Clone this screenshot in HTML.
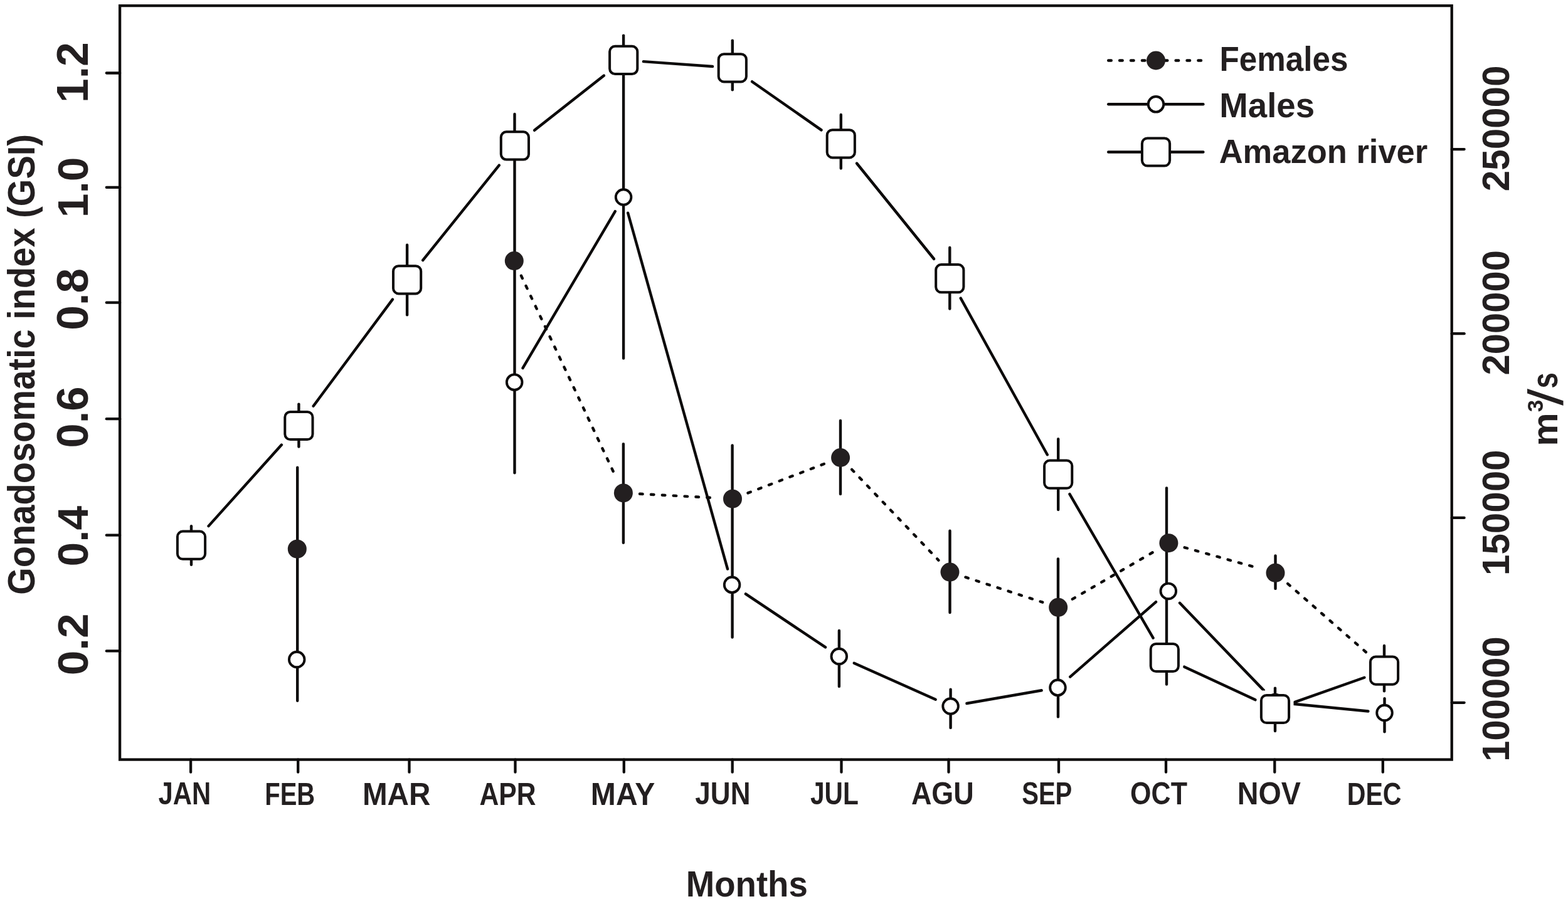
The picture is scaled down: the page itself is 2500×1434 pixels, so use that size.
<!DOCTYPE html>
<html lang="en"><head><meta charset="utf-8"><title>Gonadosomatic index and Amazon river discharge by month</title>
<style>html,body{margin:0;padding:0;background:#fff;}body{width:2500px;height:1434px;overflow:hidden;}svg{display:block;}</style>
</head><body>
<svg width="2500" height="1434" viewBox="0 0 2500 1434">
<rect x="0" y="0" width="2500" height="1434" fill="#fff"/>
<g font-family="'Liberation Sans', sans-serif" font-weight="bold" font-size="200" fill="#231f20">
<text transform="matrix(0.20911 0 0 0.25000 252.57 1283.10)">JAN</text>
<text transform="matrix(0.20000 0 0 0.25072 422.20 1283.60)">FEB</text>
<text transform="matrix(0.23836 0 0 0.25072 577.90 1283.60)">MAR</text>
<text transform="matrix(0.21359 0 0 0.25072 764.53 1283.60)">APR</text>
<text transform="matrix(0.24049 0 0 0.25072 941.87 1283.60)">MAY</text>
<text transform="matrix(0.22031 0 0 0.25000 1108.34 1283.10)">JUN</text>
<text transform="matrix(0.20325 0 0 0.25000 1291.99 1283.10)">JUL</text>
<text transform="matrix(0.22482 0 0 0.25352 1452.88 1283.49)">AGU</text>
<text transform="matrix(0.20026 0 0 0.25352 1629.20 1283.49)">SEP</text>
<text transform="matrix(0.21529 0 0 0.25352 1802.08 1283.49)">OCT</text>
<text transform="matrix(0.23365 0 0 0.24648 1972.66 1283.11)">NOV</text>
<text transform="matrix(0.20571 0 0 0.24930 2147.73 1283.50)">DEC</text>
<text transform="matrix(0.27319 0 0 0.28503 1093.65 1429.93)">Months</text>
<text transform="matrix(0.25597 0 0 0.27687 1944.57 112.95)">Females</text>
<text transform="matrix(0.27308 0 0 0.27755 1944.35 186.94)">Males</text>
<text transform="matrix(0.26243 0 0 0.26667 1943.69 260.17)">Amazon river</text>
<text transform="matrix(0 -0.34786 0.35071 0 140.30 164.02)">1.2</text>
<text transform="matrix(0 -0.34747 0.34577 0 139.61 347.22)">1.0</text>
<text transform="matrix(0 -0.35568 0.34930 0 140.10 526.85)">0.8</text>
<text transform="matrix(0 -0.35285 0.34930 0 140.10 714.52)">0.6</text>
<text transform="matrix(0 -0.34721 0.34296 0 139.61 903.48)">0.4</text>
<text transform="matrix(0 -0.35649 0.34296 0 139.61 1077.35)">0.2</text>
<text transform="matrix(0 -0.30092 0.30211 0 2406.40 305.31)">250000</text>
<text transform="matrix(0 -0.29893 0.30211 0 2406.40 598.49)">200000</text>
<text transform="matrix(0 -0.30046 0.30211 0 2406.40 918.01)">150000</text>
<text transform="matrix(0 -0.29923 0.30211 0 2406.40 1214.79)">100000</text>
<text transform="matrix(0 -0.30066 0.28426 0 2483.10 711.71)">m</text>
<text transform="matrix(0 -0.17475 0.17676 0 2459.85 657.37)">3</text>
<text transform="matrix(0 -0.22708 0.29364 0 2483.01 619.59)">s</text>
<text transform="matrix(0 -0.28023 0.30725 0 55.10 948.74)">Gonadosomatic index (GSI)</text>
<text font-weight="normal" transform="matrix(0 -0.48727 0.39116 0 2492.32 647.00)">/</text>
</g>
<g stroke="#0c0a0a" stroke-width="4.3" fill="none" stroke-linecap="round">
<rect x="191.1" y="9.1" width="2123.60" height="1202.50" stroke-linecap="butt" stroke-linejoin="miter"/>
<line x1="191.1" y1="116.5" x2="169.8" y2="116.5"/>
<line x1="191.1" y1="298.9" x2="169.8" y2="298.9"/>
<line x1="191.1" y1="482.7" x2="169.8" y2="482.7"/>
<line x1="191.1" y1="668.2" x2="169.8" y2="668.2"/>
<line x1="191.1" y1="853.7" x2="169.8" y2="853.7"/>
<line x1="191.1" y1="1038.4" x2="169.8" y2="1038.4"/>
<line x1="2314.7" y1="238.1" x2="2334.6" y2="238.1"/>
<line x1="2314.7" y1="532.2" x2="2334.6" y2="532.2"/>
<line x1="2314.7" y1="825.9" x2="2334.6" y2="825.9"/>
<line x1="2314.7" y1="1120.8" x2="2334.6" y2="1120.8"/>
<line x1="304.1" y1="1211.6" x2="304.1" y2="1231.7"/>
<line x1="475.2" y1="1211.6" x2="475.2" y2="1231.7"/>
<line x1="652.5" y1="1211.6" x2="652.5" y2="1231.7"/>
<line x1="821.5" y1="1211.6" x2="821.5" y2="1231.7"/>
<line x1="994.8" y1="1211.6" x2="994.8" y2="1231.7"/>
<line x1="1167.7" y1="1211.6" x2="1167.7" y2="1231.7"/>
<line x1="1341.5" y1="1211.6" x2="1341.5" y2="1231.7"/>
<line x1="1512.5" y1="1211.6" x2="1512.5" y2="1231.7"/>
<line x1="1688.0" y1="1211.6" x2="1688.0" y2="1231.7"/>
<line x1="1859.0" y1="1211.6" x2="1859.0" y2="1231.7"/>
<line x1="2032.3" y1="1211.6" x2="2032.3" y2="1231.7"/>
<line x1="2204.8" y1="1211.6" x2="2204.8" y2="1231.7"/>
</g>
<g stroke="#0c0a0a" stroke-width="4.4" stroke-linecap="round" fill="none">
<g stroke-dasharray="4.6 13.3"><line x1="830.95" y1="439.81" x2="982.75" y2="762.69"/><line x1="1020.06" y1="787.80" x2="1141.84" y2="794.30"/><line x1="1192.48" y1="786.36" x2="1315.62" y2="739.34"/><line x1="1358.20" y1="748.95" x2="1496.40" y2="893.65"/><line x1="1539.41" y1="920.71" x2="1662.29" y2="960.69"/><line x1="1709.84" y1="955.62" x2="1840.76" y2="879.38"/><line x1="1888.63" y1="873.26" x2="2008.27" y2="906.74"/><line x1="2053.21" y1="931.06" x2="2187.59" y2="1048.74"/></g>
<line x1="833.50" y1="587.13" x2="980.80" y2="337.07"/>
<line x1="1001.16" y1="339.73" x2="1160.04" y2="907.57"/>
<line x1="1188.88" y1="947.37" x2="1316.02" y2="1032.43"/>
<line x1="1361.72" y1="1057.69" x2="1491.68" y2="1115.81"/>
<line x1="1541.41" y1="1122.01" x2="1660.69" y2="1101.29"/>
<line x1="1706.24" y1="1079.57" x2="1843.06" y2="960.13"/>
<line x1="1880.95" y1="961.79" x2="2014.85" y2="1101.11"/>
<line x1="2059.08" y1="1122.54" x2="2181.42" y2="1134.46"/>
</g>
<g fill="#fff">
<rect x="275.50" y="840.20" width="59.0" height="59.0" rx="6"/>
<rect x="446.90" y="649.50" width="59.0" height="59.0" rx="6"/>
<rect x="619.60" y="416.80" width="59.0" height="59.0" rx="6"/>
<rect x="791.40" y="202.90" width="59.0" height="59.0" rx="6"/>
<rect x="964.70" y="66.40" width="59.0" height="59.0" rx="6"/>
<rect x="1138.30" y="78.80" width="59.0" height="59.0" rx="6"/>
<rect x="1311.30" y="199.80" width="59.0" height="59.0" rx="6"/>
<rect x="1484.80" y="414.70" width="59.0" height="59.0" rx="6"/>
<rect x="1657.70" y="727.20" width="59.0" height="59.0" rx="6"/>
<rect x="1827.30" y="1019.50" width="59.0" height="59.0" rx="6"/>
<rect x="2003.50" y="1101.50" width="59.0" height="59.0" rx="6"/>
<rect x="2177.50" y="1040.10" width="59.0" height="59.0" rx="6"/>
</g>
<g stroke="#0c0a0a" stroke-width="4.4" stroke-linecap="round" fill="none">
<line x1="332.49" y1="839.12" x2="448.91" y2="709.58"/>
<line x1="499.60" y1="647.73" x2="625.90" y2="477.57"/>
<line x1="674.17" y1="415.09" x2="795.83" y2="263.61"/>
<line x1="852.13" y1="207.80" x2="962.97" y2="120.50"/>
<line x1="1025.89" y1="98.16" x2="1136.11" y2="106.04"/>
<line x1="1199.10" y1="130.19" x2="1309.50" y2="207.41"/>
<line x1="1365.99" y1="260.50" x2="1489.11" y2="413.00"/>
<line x1="1531.69" y1="475.63" x2="1669.81" y2="725.27"/>
<line x1="1705.42" y1="788.10" x2="1838.58" y2="1017.60"/>
<line x1="1888.29" y1="1063.66" x2="2001.51" y2="1116.34"/>
<line x1="2064.57" y1="1119.86" x2="2175.43" y2="1080.74"/>
<line x1="305.0" y1="839.20" x2="305.0" y2="900.70"/>
<line x1="476.4" y1="644.60" x2="476.4" y2="712.50"/>
<line x1="474.2" y1="745.70" x2="474.2" y2="1117.80"/>
<line x1="649.1" y1="390.80" x2="649.1" y2="502.20"/>
<line x1="820.5" y1="182.00" x2="820.5" y2="754.30"/>
<line x1="994.1" y1="56.60" x2="994.1" y2="571.50"/>
<line x1="993.9" y1="708.10" x2="993.9" y2="865.70"/>
<line x1="1167.8" y1="64.60" x2="1167.8" y2="143.20"/>
<line x1="1167.6" y1="710.40" x2="1167.6" y2="1016.50"/>
<line x1="1340.8" y1="183.00" x2="1340.8" y2="268.60"/>
<line x1="1340.0" y1="671.00" x2="1340.0" y2="788.00"/>
<line x1="1337.9" y1="1006.00" x2="1337.9" y2="1094.90"/>
<line x1="1514.3" y1="395.00" x2="1514.3" y2="492.60"/>
<line x1="1514.5" y1="846.80" x2="1514.5" y2="977.10"/>
<line x1="1515.6" y1="1099.70" x2="1515.6" y2="1160.90"/>
<line x1="1687.2" y1="700.30" x2="1687.2" y2="813.10"/>
<line x1="1687.0" y1="891.50" x2="1687.0" y2="1143.40"/>
<line x1="1860.0" y1="778.50" x2="1860.0" y2="1091.60"/>
<line x1="2033.5" y1="886.50" x2="2033.5" y2="938.90"/>
<line x1="2033.0" y1="1097.60" x2="2033.0" y2="1166.00"/>
<line x1="2207.0" y1="1030.00" x2="2207.0" y2="1102.20"/>
<line x1="2207.5" y1="1114.20" x2="2207.5" y2="1167.30"/>
</g>
<g fill="#231f20">
<circle cx="473.8" cy="875.7" r="15.0"/>
<circle cx="819.8" cy="416.1" r="15.0"/>
<circle cx="993.9" cy="786.4" r="15.0"/>
<circle cx="1168.0" cy="795.7" r="15.0"/>
<circle cx="1340.1" cy="730.0" r="15.0"/>
<circle cx="1514.5" cy="912.6" r="15.0"/>
<circle cx="1687.2" cy="968.8" r="15.0"/>
<circle cx="1863.4" cy="866.2" r="15.0"/>
<circle cx="2033.5" cy="913.8" r="15.0"/>
<circle cx="2207.3" cy="1066.0" r="15.0"/>
</g>
<g fill="#fff" stroke="#0c0a0a" stroke-width="3.9">
<circle cx="473.2" cy="1052.0" r="12.3"/>
<circle cx="820.2" cy="609.7" r="12.3"/>
<circle cx="994.1" cy="314.5" r="12.3"/>
<circle cx="1167.1" cy="932.8" r="12.3"/>
<circle cx="1337.8" cy="1047.0" r="12.3"/>
<circle cx="1515.6" cy="1126.5" r="12.3"/>
<circle cx="1686.5" cy="1096.8" r="12.3"/>
<circle cx="1862.8" cy="942.9" r="12.3"/>
<circle cx="2033.0" cy="1120.0" r="12.3"/>
<circle cx="2207.5" cy="1137.0" r="12.3"/>
</g>
<g fill="#fff" stroke="#0c0a0a" stroke-width="4.0">
<rect x="282.90" y="847.60" width="44.2" height="44.2" rx="8.5"/>
<rect x="454.30" y="656.90" width="44.2" height="44.2" rx="8.5"/>
<rect x="627.00" y="424.20" width="44.2" height="44.2" rx="8.5"/>
<rect x="798.80" y="210.30" width="44.2" height="44.2" rx="8.5"/>
<rect x="972.10" y="73.80" width="44.2" height="44.2" rx="8.5"/>
<rect x="1145.70" y="86.20" width="44.2" height="44.2" rx="8.5"/>
<rect x="1318.70" y="207.20" width="44.2" height="44.2" rx="8.5"/>
<rect x="1492.20" y="422.10" width="44.2" height="44.2" rx="8.5"/>
<rect x="1665.10" y="734.60" width="44.2" height="44.2" rx="8.5"/>
<rect x="1834.70" y="1026.90" width="44.2" height="44.2" rx="8.5"/>
<rect x="2010.90" y="1108.90" width="44.2" height="44.2" rx="8.5"/>
<rect x="2184.90" y="1047.50" width="44.2" height="44.2" rx="8.5"/>
</g>
<g stroke="#0c0a0a" stroke-width="4.4" stroke-linecap="round" fill="none">
<line x1="1767.2" y1="96.5" x2="1918.4" y2="96.5" stroke-dasharray="4.6 13.3"/>
<line x1="1767.2" y1="166.3" x2="1918.4" y2="166.3"/>
<line x1="1767.2" y1="242.5" x2="1918.4" y2="242.5"/>
</g>
<circle cx="1843.0" cy="96.5" r="15.0" fill="#231f20"/>
<circle cx="1843.0" cy="166.3" r="12.3" fill="#fff" stroke="#0c0a0a" stroke-width="3.9"/>
<rect x="1820.9" y="220.4" width="44.2" height="44.2" rx="8.5" fill="#fff" stroke="#0c0a0a" stroke-width="4.0"/>
</svg>
</body></html>
